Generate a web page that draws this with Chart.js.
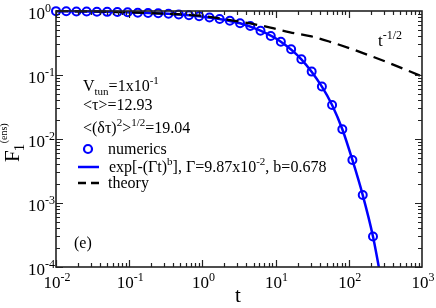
<!DOCTYPE html>
<html>
<head>
<meta charset="utf-8">
<script src="https://cdn.jsdelivr.net/npm/chart.js@4"></script>
<style>
  html, body { margin: 0; padding: 0; background: #fff; }
  #wrap { width: 436px; height: 308px; }
</style>
</head>
<body>
<div id="wrap"><canvas id="chart" width="436" height="308"></canvas></div>
<script>
// numerics (circles)
const tNumerics = [0.0100, 0.0138, 0.0190, 0.0262, 0.0362, 0.0500, 0.0689, 0.0951, 0.131, 0.181, 0.249, 0.344, 0.475, 0.655, 0.903, 1.25, 1.72, 2.37, 3.27, 4.51, 6.22, 8.59, 11.8, 16.3, 22.5, 31.1, 42.9, 59.1, 81.6, 112, 155, 214]
const fNumerics = [0.995, 0.99, 0.985, 0.98, 0.976, 0.97, 0.963, 0.953, 0.94, 0.93, 0.92, 0.905, 0.885, 0.86, 0.83, 0.79, 0.75, 0.705, 0.643, 0.583, 0.492, 0.407, 0.331, 0.252, 0.176, 0.113, 0.066, 0.034, 0.0142, 0.0047, 0.00133, 0.00030]

// stretched exponential fit (blue line)
const tFit = [0.0100, 0.0262, 0.0689, 0.181, 0.475, 0.903, 1.72, 3.27, 6.22, 11.8, 22.5, 42.9, 59.1, 81.6, 112, 155, 214, 270]
const fFit = [0.992, 0.981, 0.963, 0.93, 0.885, 0.83, 0.75, 0.643, 0.492, 0.331, 0.176, 0.066, 0.034, 0.0142, 0.0047, 0.00133, 0.00030, 0.000074]

// theory (dashed)
const tTheory = [0.01, 0.03, 0.1, 0.3, 0.93, 2.4, 4.5, 8.5, 15.8, 29.6, 55.6, 104, 196, 366, 1000]
const fTheory = [0.995, 0.985, 0.955, 0.91, 0.845, 0.72, 0.64, 0.55, 0.465, 0.406, 0.33, 0.26, 0.2, 0.152, 0.095]

// axis ticks
const xTicks = [0.01, 0.1, 1, 10, 100, 1000]
const xTickExp = ['-2', '-1', '0', '1', '2', '3']
const yTicks = [1, 0.1, 0.01, 0.001, 0.0001]
const yTickExp = ['0', '-1', '-2', '-3', '-4']

const SERIF = '"Liberation Serif", "Times New Roman", serif'
const BLUE = '#0000ff'

const pts = (xs, ys) => xs.map((x, i) => ({ x, y: ys[i] }))

// text with sub/superscripts, parts = [[text, kind]]
function rich (ctx, parts, x, y, size, align) {
  const small = Math.round(size * 0.68)
  const font = k => `${k ? small : size}px ${SERIF}`
  let w = 0
  parts.forEach(([s, k]) => { ctx.font = font(k); w += ctx.measureText(s).width })
  let cx = align === 'right' ? x - w : align === 'center' ? x - w / 2 : x
  parts.forEach(([s, k]) => {
    ctx.font = font(k)
    const dy = k === 'sup' ? -size * 0.42 : k === 'sub' ? size * 0.28 : 0
    ctx.fillText(s, cx, y + dy)
    cx += ctx.measureText(s).width
  })
}

const frame = {
  id: 'frame',
  afterDatasetsDraw (chart) {
    const { ctx, chartArea: a, scales: { x, y } } = chart
    ctx.save()
    ctx.strokeStyle = '#222'
    ctx.lineWidth = 1.2
    ctx.beginPath()
    for (let d = -2; d < 3; d++) {
      for (let m = 1; m <= 9; m++) {
        const px = Math.round(x.getPixelForValue(m * Math.pow(10, d))) + 0.5
        const len = m === 1 ? 7 : 4
        ctx.moveTo(px, a.bottom); ctx.lineTo(px, a.bottom - len)
        ctx.moveTo(px, a.top); ctx.lineTo(px, a.top + len)
      }
    }
    for (let d = -4; d < 0; d++) {
      for (let m = 1; m <= 9; m++) {
        const py = Math.round(y.getPixelForValue(m * Math.pow(10, d))) + 0.5
        const len = m === 1 ? 7 : 4
        ctx.moveTo(a.left, py); ctx.lineTo(a.left + len, py)
        ctx.moveTo(a.right, py); ctx.lineTo(a.right - len, py)
      }
    }
    ctx.stroke()
    ctx.lineWidth = 1.6
    ctx.strokeRect(a.left, a.top, a.right - a.left, a.bottom - a.top)

    ctx.fillStyle = '#000'
    ctx.textBaseline = 'alphabetic'
    ctx.textAlign = 'left'

    // tick labels
    xTicks.forEach((v, i) => {
      const px = x.getPixelForValue(v)
      rich(ctx, [['10', ''], [xTickExp[i], 'sup']], px + 1, 288, 17, 'center')
    })
    yTicks.forEach((v, i) => {
      const py = y.getPixelForValue(v)
      ctx.font = `17px ${SERIF}`
      const w = ctx.measureText('10').width
      rich(ctx, [['10', ''], [yTickExp[i], 'sup']], 45 - w, py + 8, 17, 'left')
    })

    // axis titles
    ctx.font = `21px ${SERIF}`
    ctx.fillText('t', 235, 302)
    ctx.save()
    ctx.translate(19, 162)
    ctx.rotate(-Math.PI / 2)
    ctx.font = `21px ${SERIF}`
    ctx.fillText('F', 0, 0)
    const fw = ctx.measureText('F').width
    ctx.font = `15px ${SERIF}`
    ctx.fillText('1', fw - 1, 5)
    ctx.font = `10px ${SERIF}`
    ctx.fillText('(ens)', fw + 7, -12)
    ctx.restore()

    // annotation block
    rich(ctx, [['V', ''], ['tun', 'sub'], ['=1x10', ''], ['-1', 'sup']], 83, 91, 16)
    rich(ctx, [['<\u03c4>=12.93', '']], 83, 110, 16)
    rich(ctx, [['<(\u03b4\u03c4)', ''], ['2', 'sup'], ['>', ''], ['1/2', 'sup'], ['=19.04', '']], 83, 133, 16)

    // legend
    ctx.lineWidth = 2.2
    ctx.strokeStyle = BLUE
    ctx.beginPath(); ctx.arc(88, 149, 4, 0, Math.PI * 2); ctx.stroke()
    rich(ctx, [['numerics', '']], 108, 154, 16)
    ctx.lineWidth = 2.5
    ctx.beginPath(); ctx.moveTo(78, 167); ctx.lineTo(99, 167); ctx.stroke()
    rich(ctx, [[' exp[-(\u0393t)', ''], ['b', 'sup'], ['], \u0393=9.87x10', ''], ['-2', 'sup'], [', b=0.678', '']], 105, 172, 16)
    ctx.strokeStyle = '#000'
    ctx.setLineDash([8, 5])
    ctx.beginPath(); ctx.moveTo(78, 183); ctx.lineTo(99, 183); ctx.stroke()
    ctx.setLineDash([])
    rich(ctx, [['theory', '']], 108, 188, 16)

    rich(ctx, [['(e)', '']], 74, 248, 16)
    rich(ctx, [['t', ''], ['-1/2', 'sup']], 378, 46, 17)
    ctx.restore()
  }
}

new Chart(document.getElementById('chart'), {
  type: 'scatter',
  data: {
    datasets: [
      {
        label: 'theory',
        data: pts(tTheory, fTheory),
        showLine: true,
        borderColor: '#000',
        borderWidth: 2.3,
        borderDash: [12, 7],
        pointRadius: 0,
        cubicInterpolationMode: 'monotone',
        order: 0,
        clip: { left: 0, top: 3, right: 0, bottom: 0 }
      },
      {
        label: 'fit',
        data: pts(tFit, fFit),
        showLine: true,
        borderColor: BLUE,
        borderWidth: 2.5,
        pointRadius: 0,
        cubicInterpolationMode: 'monotone',
        order: 1,
        clip: { left: 0, top: 3, right: 0, bottom: 0 }
      },
      {
        label: 'numerics',
        data: pts(tNumerics, fNumerics),
        showLine: false,
        pointStyle: 'circle',
        pointRadius: 4,
        pointBorderWidth: 2,
        pointBorderColor: BLUE,
        pointBackgroundColor: 'rgba(0,0,0,0)',
        order: 2,
        clip: false
      }
    ]
  },
  options: {
    responsive: false,
    animation: false,
    events: [],
    layout: { padding: { left: 56, right: 14, top: 11, bottom: 41 } },
    plugins: { legend: { display: false }, tooltip: { enabled: false } },
    scales: {
      x: { type: 'logarithmic', min: 0.01, max: 1000, display: false },
      y: { type: 'logarithmic', min: 0.0001, max: 1, display: false }
    }
  },
  plugins: [frame]
})
</script>
</body>
</html>
